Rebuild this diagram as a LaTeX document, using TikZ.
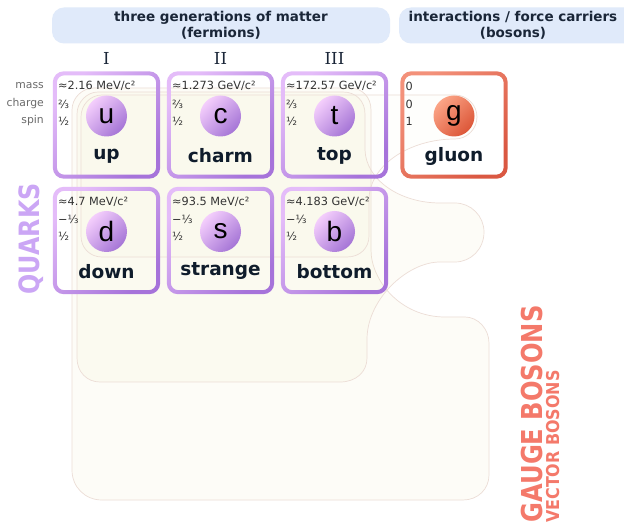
\documentclass[tikz,border=0pt]{standalone}
\usepackage{fontspec}
\usepackage{graphicx}
\setmainfont{DejaVu Sans}
\newfontfamily\romanfont{DejaVu Serif}
\newfontfamily\letterfont{Liberation Sans}

\definecolor{hdr}{HTML}{E0EAFA}
\definecolor{hdrink}{HTML}{1A2638}
\definecolor{qframeA}{HTML}{E4BCF9}
\definecolor{qframeB}{HTML}{A673DA}
\definecolor{gframeA}{HTML}{F3917A}
\definecolor{gframeB}{HTML}{DA5842}
\definecolor{qballA}{HTML}{F4CEFC}
\definecolor{qballB}{HTML}{A575D6}
\definecolor{gballA}{HTML}{FBA486}
\definecolor{gballB}{HTML}{DC5638}
\definecolor{ink}{HTML}{0F1C2B}
\definecolor{propink}{HTML}{333333}
\definecolor{rowink}{HTML}{6B6B6B}
\definecolor{blobline}{HTML}{ECDDD6}
\definecolor{blobfill}{HTML}{EDEBB8}
\definecolor{quarklab}{HTML}{CBA6F5}
\definecolor{bosonlab}{HTML}{F4796A}

% gradient frame of a particle cell (ring between two rounded rectangles)
\newcommand\cellframe[3]{%
  \shade[top color=#2, bottom color=#3, shading angle=45, even odd rule]
    [rounded corners=11pt] (#1.north west) rectangle (#1.south east)
    [rounded corners=7.5pt] ([shift={(4,4)}]#1.north west) rectangle ([shift={(-4,-4)}]#1.south east);}

% one particle cell: name, x, y, letter, mass, charge, spin, label, colour prefix
\newcommand\particle[9]{%
  \node[cell] (#1) at (#2,#3) {};
  \cellframe{#1}{#9frameA}{#9frameB}
  \node[ball, top color=#9ballA, bottom color=#9ballB, shading angle=45] (#1-ball) at (#2,#3-9) {#4};
  \node[prop] (#1-mass) at (#2-48.5,#3-39) {#5};
  \node[prop] (#1-charge) at (#2-48.5,#3-21) {#6};
  \node[prop] (#1-spin) at (#2-48.5,#3-4) {#7};
  \node[pname] (#1-name) at (#2,#3+31) {#8};}

\begin{document}
\begin{tikzpicture}[x=1pt,y=-1pt,
  cell/.style={minimum width=107pt, minimum height=107pt, inner sep=0pt, draw=none},
  ball/.style={circle, minimum size=41pt, inner sep=0pt, font=\letterfont\fontsize{28}{28}\selectfont, text=black},
  prop/.style={anchor=west, inner sep=0pt, font=\fontsize{11.3}{11.3}\selectfont, text=propink},
  pname/.style={inner sep=0pt, font=\bfseries\fontsize{18.5}{18.5}\selectfont, text=ink},
  rowlab/.style={anchor=east, inner sep=0pt, font=\fontsize{10.8}{10.8}\selectfont, text=rowink},
  gen/.style={inner sep=0pt, font=\romanfont\fontsize{16.5}{16.5}\selectfont, text=hdrink},
  hdrbox/.style={fill=hdr, rounded corners=12pt, inner sep=0pt, minimum height=36pt},
  hdrtext/.style={align=center, inner sep=0pt, text=hdrink, font=\bfseries\fontsize{13.5}{16.5}\selectfont},
  blob/.style={draw=blobline, line width=0.7pt, fill=blobfill},
  sidelab/.style={rotate=90, inner sep=0pt}]

\useasboundingbox (0,0) rectangle (624,526);
\clip (0,0) rectangle (624,526);
\fill[white] (0,0) rectangle (624,526);

% interaction regions behind the cells
\path[blob, fill opacity=0.1] (94,88) -- (350,88) .. controls (362,88) and (371,97) .. (371,110)
  -- (371,250) .. controls (371,280) and (400,317) .. (445,317) -- (465,317)
  .. controls (478,317) and (489,329) .. (489,343) -- (489,475)
  .. controls (489,489) and (478,500) .. (463,500) -- (102,500)
  .. controls (85,500) and (72,487) .. (72,470) -- (72,110)
  .. controls (72,98) and (82,88) .. (94,88) -- cycle;
\path[blob, fill opacity=0.1] (98,92) -- (343,92) .. controls (356,92) and (365,101) .. (365,114)
  -- (365,150) .. controls (366,180) and (400,203) .. (440,203) -- (455,203)
  .. controls (471,203) and (484,216) .. (484,232) .. controls (484,249) and (471,262) .. (455,262)
  -- (440,262) .. controls (408,262) and (368,298) .. (367,338) -- (367,358)
  .. controls (367,372) and (356,382) .. (340,382) -- (100,382)
  .. controls (87,382) and (77,372) .. (77,358) -- (77,114)
  .. controls (77,102) and (87,92) .. (98,92) -- cycle;
\path[blob, fill opacity=0.04] (102,95) -- (455,95) .. controls (467,95) and (477,105) .. (477,117)
  .. controls (477,129) and (467,139) .. (455,139) .. controls (410,139) and (369,165) .. (369,200)
  -- (369,236) .. controls (369,248) and (360,257) .. (347,257) -- (102,257)
  .. controls (90,257) and (81,248) .. (81,236) -- (81,117)
  .. controls (81,105) and (90,95) .. (102,95) -- cycle;

% headers
\node[hdrbox, minimum width=338pt] (hf) at (221,25.5) {};
\node[hdrtext] (hft) at (221,25.5) {three generations of matter\\(fermions)};
\node[hdrbox, minimum width=241pt] (hb) at (519.5,25.5) {};
\node[hdrtext] (hbt) at (513,25.5) {interactions / force carriers\\(bosons)};

% generations
\node[gen] (gI) at (106.5,58) {I};
\node[gen] (gII) at (220.5,58) {II};
\node[gen] (gIII) at (334.5,58) {III};

% property labels
\node[rowlab] (lmass) at (44,86) {mass};
\node[rowlab] (lcharge) at (44,104) {charge};
\node[rowlab] (lspin) at (44,121) {spin};

% quarks
\particle{u}{106.5}{125}{u}{≈2.16 MeV/c²}{⅔}{½}{up}{q}
\particle{c}{220.5}{125}{c}{≈1.273 GeV/c²}{⅔}{½}{charm}{q}
\particle{t}{334.5}{125}{t}{≈172.57 GeV/c²}{⅔}{½}{top}{q}
\particle{d}{106.5}{240.5}{d}{≈4.7 MeV/c²}{−⅓}{½}{down}{q}
\particle{s}{220.5}{240.5}{s}{≈93.5 MeV/c²}{−⅓}{½}{strange}{q}
\particle{b}{334.5}{240.5}{b}{≈4.183 GeV/c²}{−⅓}{½}{bottom}{q}
% gauge boson
\particle{g}{454}{125}{g}{0}{0}{1}{gluon}{g}

% group labels
\node[sidelab, text=quarklab, font=\bfseries\fontsize{28}{28}\selectfont] (quarks) at (31,239) {\scalebox{0.85}[1]{QUARKS}};
\node[sidelab, text=bosonlab, font=\bfseries\fontsize{28.8}{28.8}\selectfont] (gauge) at (532,414) {\scalebox{0.84}[1]{GAUGE BOSONS}};
\node[sidelab, text=bosonlab, font=\bfseries\fontsize{17.7}{17.7}\selectfont] (vector) at (553,446.5) {\scalebox{0.9}[1]{VECTOR BOSONS}};
\end{tikzpicture}
\end{document}
